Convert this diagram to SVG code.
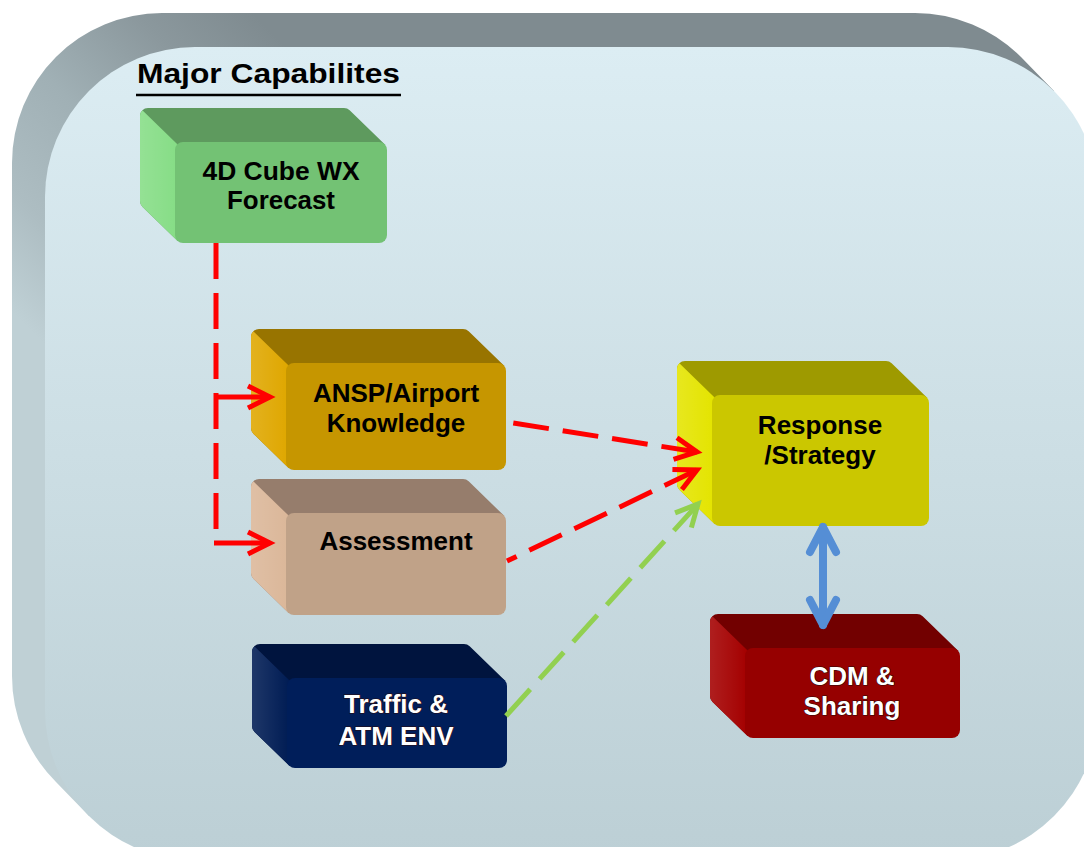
<svg xmlns="http://www.w3.org/2000/svg" width="1084" height="847" viewBox="0 0 1084 847">
  <defs>
    <linearGradient id="panelFront" x1="0" y1="0" x2="0" y2="1">
      <stop offset="0" stop-color="#dcedf3"/>
      <stop offset="1" stop-color="#bccfd5"/>
    </linearGradient>
    <linearGradient id="panelDepth" gradientUnits="userSpaceOnUse" x1="0" y1="300" x2="300" y2="0">
      <stop offset="0" stop-color="#bfd0d5"/>
      <stop offset="0.2" stop-color="#adbdc2"/>
      <stop offset="0.45" stop-color="#a0b0b5"/>
      <stop offset="0.7" stop-color="#8b989d"/>
      <stop offset="0.9" stop-color="#7f8b90"/>
    </linearGradient>
    <linearGradient id="sideSheen" x1="0" y1="0" x2="1" y2="0">
      <stop offset="0" stop-color="#ffffff" stop-opacity="0.12"/>
      <stop offset="1" stop-color="#ffffff" stop-opacity="0"/>
    </linearGradient>
    <marker id="headRed" markerUnits="userSpaceOnUse" orient="auto-start-reverse" refX="0" refY="0" overflow="visible">
      <path d="M-22,-11 L0,0 L-22,11" fill="none" stroke="#ff0000" stroke-width="5" stroke-linejoin="miter"/>
    </marker>
    <marker id="headGreen" markerUnits="userSpaceOnUse" orient="auto-start-reverse" refX="0" refY="0" overflow="visible">
      <path d="M-22,-11 L0,0 L-22,11" fill="none" stroke="#92d050" stroke-width="5" stroke-linejoin="miter"/>
    </marker>
    <marker id="headBlue" markerUnits="userSpaceOnUse" orient="auto-start-reverse" refX="0" refY="0" overflow="visible">
      <path d="M-25,-13 L0,0 L-25,13" fill="none" stroke="#558ed5" stroke-width="8" stroke-linecap="round" stroke-linejoin="round"/>
    </marker>
  </defs>
  <style>
    .lbl { font-family: "Liberation Sans", Arial, sans-serif; font-weight: bold; font-size: 26px; text-anchor: middle; fill: #000000; }
    .lbl.tight { font-size: 25px; }
    .lbl.light { fill: #ffffff; stroke: #2a0a0a; stroke-width: 1.2px; paint-order: stroke; }
    .title { font-family: "Liberation Sans", Arial, sans-serif; font-weight: bold; font-size: 27px; fill: #000000; }
    .sheen { fill: url(#sideSheen); }
    .dashRed { fill: none; stroke: #ff0000; stroke-width: 5; stroke-dasharray: 36 14; }
    .solidRed { fill: none; stroke: #ff0000; stroke-width: 5; }
    .dashGreen { fill: none; stroke: #92d050; stroke-width: 5; stroke-dasharray: 36 14; }
    .blue { fill: none; stroke: #558ed5; stroke-width: 8; stroke-linecap: round; }
  </style>

  <!-- rounded backdrop panel with bevelled top/left edge -->
  <g id="panel">
    <path d="M12,163 A150,150 0 0 1 162,13 H915 A150,150 0 0 1 1021,57 L1054,91 L900,500 L89,816 L56,782 A150,150 0 0 1 12,676 Z" fill="url(#panelDepth)"/>
    <rect x="45" y="47" width="1053" height="813" rx="150" ry="150" fill="url(#panelFront)"/>
  </g>

  <g id="title">
    <text class="title" x="137" y="83" textLength="263" lengthAdjust="spacingAndGlyphs">Major Capabilites</text>
    <line x1="136" y1="95" x2="401" y2="95" stroke="#000000" stroke-width="2.6"/>
  </g>

  <!-- 4D Cube WX Forecast: front 175,142 212x101 -->
  <g id="node-forecast">
    <path d="M140,116 A8,8 0 0 1 148,108 H344 A8,8 0 0 1 349.66,110.34 L384.66,144.34 L384.66,240.66 L177.34,240.66 L142.34,206.66 A8,8 0 0 1 140,201 Z" fill="#5e9a5e"/>
    <path d="M142.34,110.34 L177.34,144.34 L177.34,240.66 L142.34,206.66 A8,8 0 0 1 140,201 V116 A8,8 0 0 1 142.34,110.34 Z" fill="#86dd86"/>
    <path class="sheen" d="M142.34,110.34 L177.34,144.34 L177.34,240.66 L142.34,206.66 A8,8 0 0 1 140,201 V116 A8,8 0 0 1 142.34,110.34 Z"/>
    <rect x="175" y="142" width="212" height="101" rx="8" fill="#73c274"/>
    <text class="lbl tight" x="281" y="180" textLength="157" lengthAdjust="spacingAndGlyphs">4D Cube WX</text>
    <text class="lbl tight" x="281" y="209" textLength="108" lengthAdjust="spacingAndGlyphs">Forecast</text>
  </g>

  <!-- ANSP/Airport Knowledge: front 286,363 220x107 -->
  <g id="node-knowledge">
    <path d="M251,337 A8,8 0 0 1 259,329 H463 A8,8 0 0 1 468.66,331.34 L503.66,365.34 L503.66,467.66 L288.34,467.66 L253.34,433.66 A8,8 0 0 1 251,428 Z" fill="#987400"/>
    <path d="M253.34,331.34 L288.34,365.34 L288.34,467.66 L253.34,433.66 A8,8 0 0 1 251,428 V337 A8,8 0 0 1 253.34,331.34 Z" fill="#dfa700"/>
    <path class="sheen" d="M253.34,331.34 L288.34,365.34 L288.34,467.66 L253.34,433.66 A8,8 0 0 1 251,428 V337 A8,8 0 0 1 253.34,331.34 Z"/>
    <rect x="286" y="363" width="220" height="107" rx="8" fill="#c69600"/>
    <text class="lbl" x="396" y="402">ANSP/Airport</text>
    <text class="lbl" x="396" y="432">Knowledge</text>
  </g>

  <!-- Assessment: front 286,513 220x102 -->
  <g id="node-assessment">
    <path d="M251,487 A8,8 0 0 1 259,479 H463 A8,8 0 0 1 468.66,481.34 L503.66,515.34 L503.66,612.66 L288.34,612.66 L253.34,578.66 A8,8 0 0 1 251,573 Z" fill="#967d6c"/>
    <path d="M253.34,481.34 L288.34,515.34 L288.34,612.66 L253.34,578.66 A8,8 0 0 1 251,573 V487 A8,8 0 0 1 253.34,481.34 Z" fill="#dbb799"/>
    <path class="sheen" d="M253.34,481.34 L288.34,515.34 L288.34,612.66 L253.34,578.66 A8,8 0 0 1 251,573 V487 A8,8 0 0 1 253.34,481.34 Z"/>
    <rect x="286" y="513" width="220" height="102" rx="8" fill="#c0a288"/>
    <text class="lbl" x="396" y="550">Assessment</text>
  </g>

  <!-- Response/Strategy: front 712,395 217x131 -->
  <g id="node-response">
    <path d="M677,369 A8,8 0 0 1 685,361 H886 A8,8 0 0 1 891.66,363.34 L926.66,397.34 L926.66,523.66 L714.34,523.66 L679.34,489.66 A8,8 0 0 1 677,484 Z" fill="#9e9a00"/>
    <path d="M679.34,363.34 L714.34,397.34 L714.34,523.66 L679.34,489.66 A8,8 0 0 1 677,484 V369 A8,8 0 0 1 679.34,363.34 Z" fill="#e4e400"/>
    <path class="sheen" d="M679.34,363.34 L714.34,397.34 L714.34,523.66 L679.34,489.66 A8,8 0 0 1 677,484 V369 A8,8 0 0 1 679.34,363.34 Z"/>
    <rect x="712" y="395" width="217" height="131" rx="8" fill="#cbc700"/>
    <text class="lbl" x="820" y="434">Response</text>
    <text class="lbl" x="820" y="464">/Strategy</text>
  </g>

  <!-- CDM & Sharing: front 745,648 215x90 -->
  <g id="node-cdm">
    <path d="M710,622 A8,8 0 0 1 718,614 H917 A8,8 0 0 1 922.66,616.34 L957.66,650.34 L957.66,735.66 L747.34,735.66 L712.34,701.66 A8,8 0 0 1 710,696 Z" fill="#720000"/>
    <path d="M712.34,616.34 L747.34,650.34 L747.34,735.66 L712.34,701.66 A8,8 0 0 1 710,696 V622 A8,8 0 0 1 712.34,616.34 Z" fill="#a40000"/>
    <path class="sheen" d="M712.34,616.34 L747.34,650.34 L747.34,735.66 L712.34,701.66 A8,8 0 0 1 710,696 V622 A8,8 0 0 1 712.34,616.34 Z"/>
    <rect x="745" y="648" width="215" height="90" rx="8" fill="#960000"/>
    <text class="lbl light" x="852" y="685">CDM &amp;</text>
    <text class="lbl light" x="852" y="715">Sharing</text>
  </g>

  <!-- Traffic & ATM ENV: front 287,678 220x90 -->
  <g id="node-traffic">
    <path d="M252,652 A8,8 0 0 1 260,644 H464 A8,8 0 0 1 469.66,646.34 L504.66,680.34 L504.66,765.66 L289.34,765.66 L254.34,731.66 A8,8 0 0 1 252,726 Z" fill="#00143e"/>
    <path d="M254.34,646.34 L289.34,680.34 L289.34,765.66 L254.34,731.66 A8,8 0 0 1 252,726 V652 A8,8 0 0 1 254.34,646.34 Z" fill="#001c54"/>
    <path class="sheen" d="M254.34,646.34 L289.34,680.34 L289.34,765.66 L254.34,731.66 A8,8 0 0 1 252,726 V652 A8,8 0 0 1 254.34,646.34 Z"/>
    <rect x="287" y="678" width="220" height="90" rx="8" fill="#001e5a"/>
    <text class="lbl light" x="396" y="713">Traffic &amp;</text>
    <text class="lbl light" x="396" y="745">ATM ENV</text>
  </g>

  <!-- connectors -->
  <g id="connectors">
    <path class="dashRed" d="M216,243 V543"/>
    <path class="solidRed" d="M270,397 H214" marker-start="url(#headRed)"/>
    <path class="solidRed" d="M270,543 H214" marker-start="url(#headRed)"/>
    <path class="dashRed" d="M697,452 L507,422" marker-start="url(#headRed)"/>
    <path class="dashRed" d="M697,470 L507,561" marker-start="url(#headRed)"/>
    <path class="dashGreen" d="M698,504 L506,716" marker-start="url(#headGreen)"/>
    <path class="blue" d="M823,527 V625" marker-start="url(#headBlue)" marker-end="url(#headBlue)"/>
  </g>
</svg>
